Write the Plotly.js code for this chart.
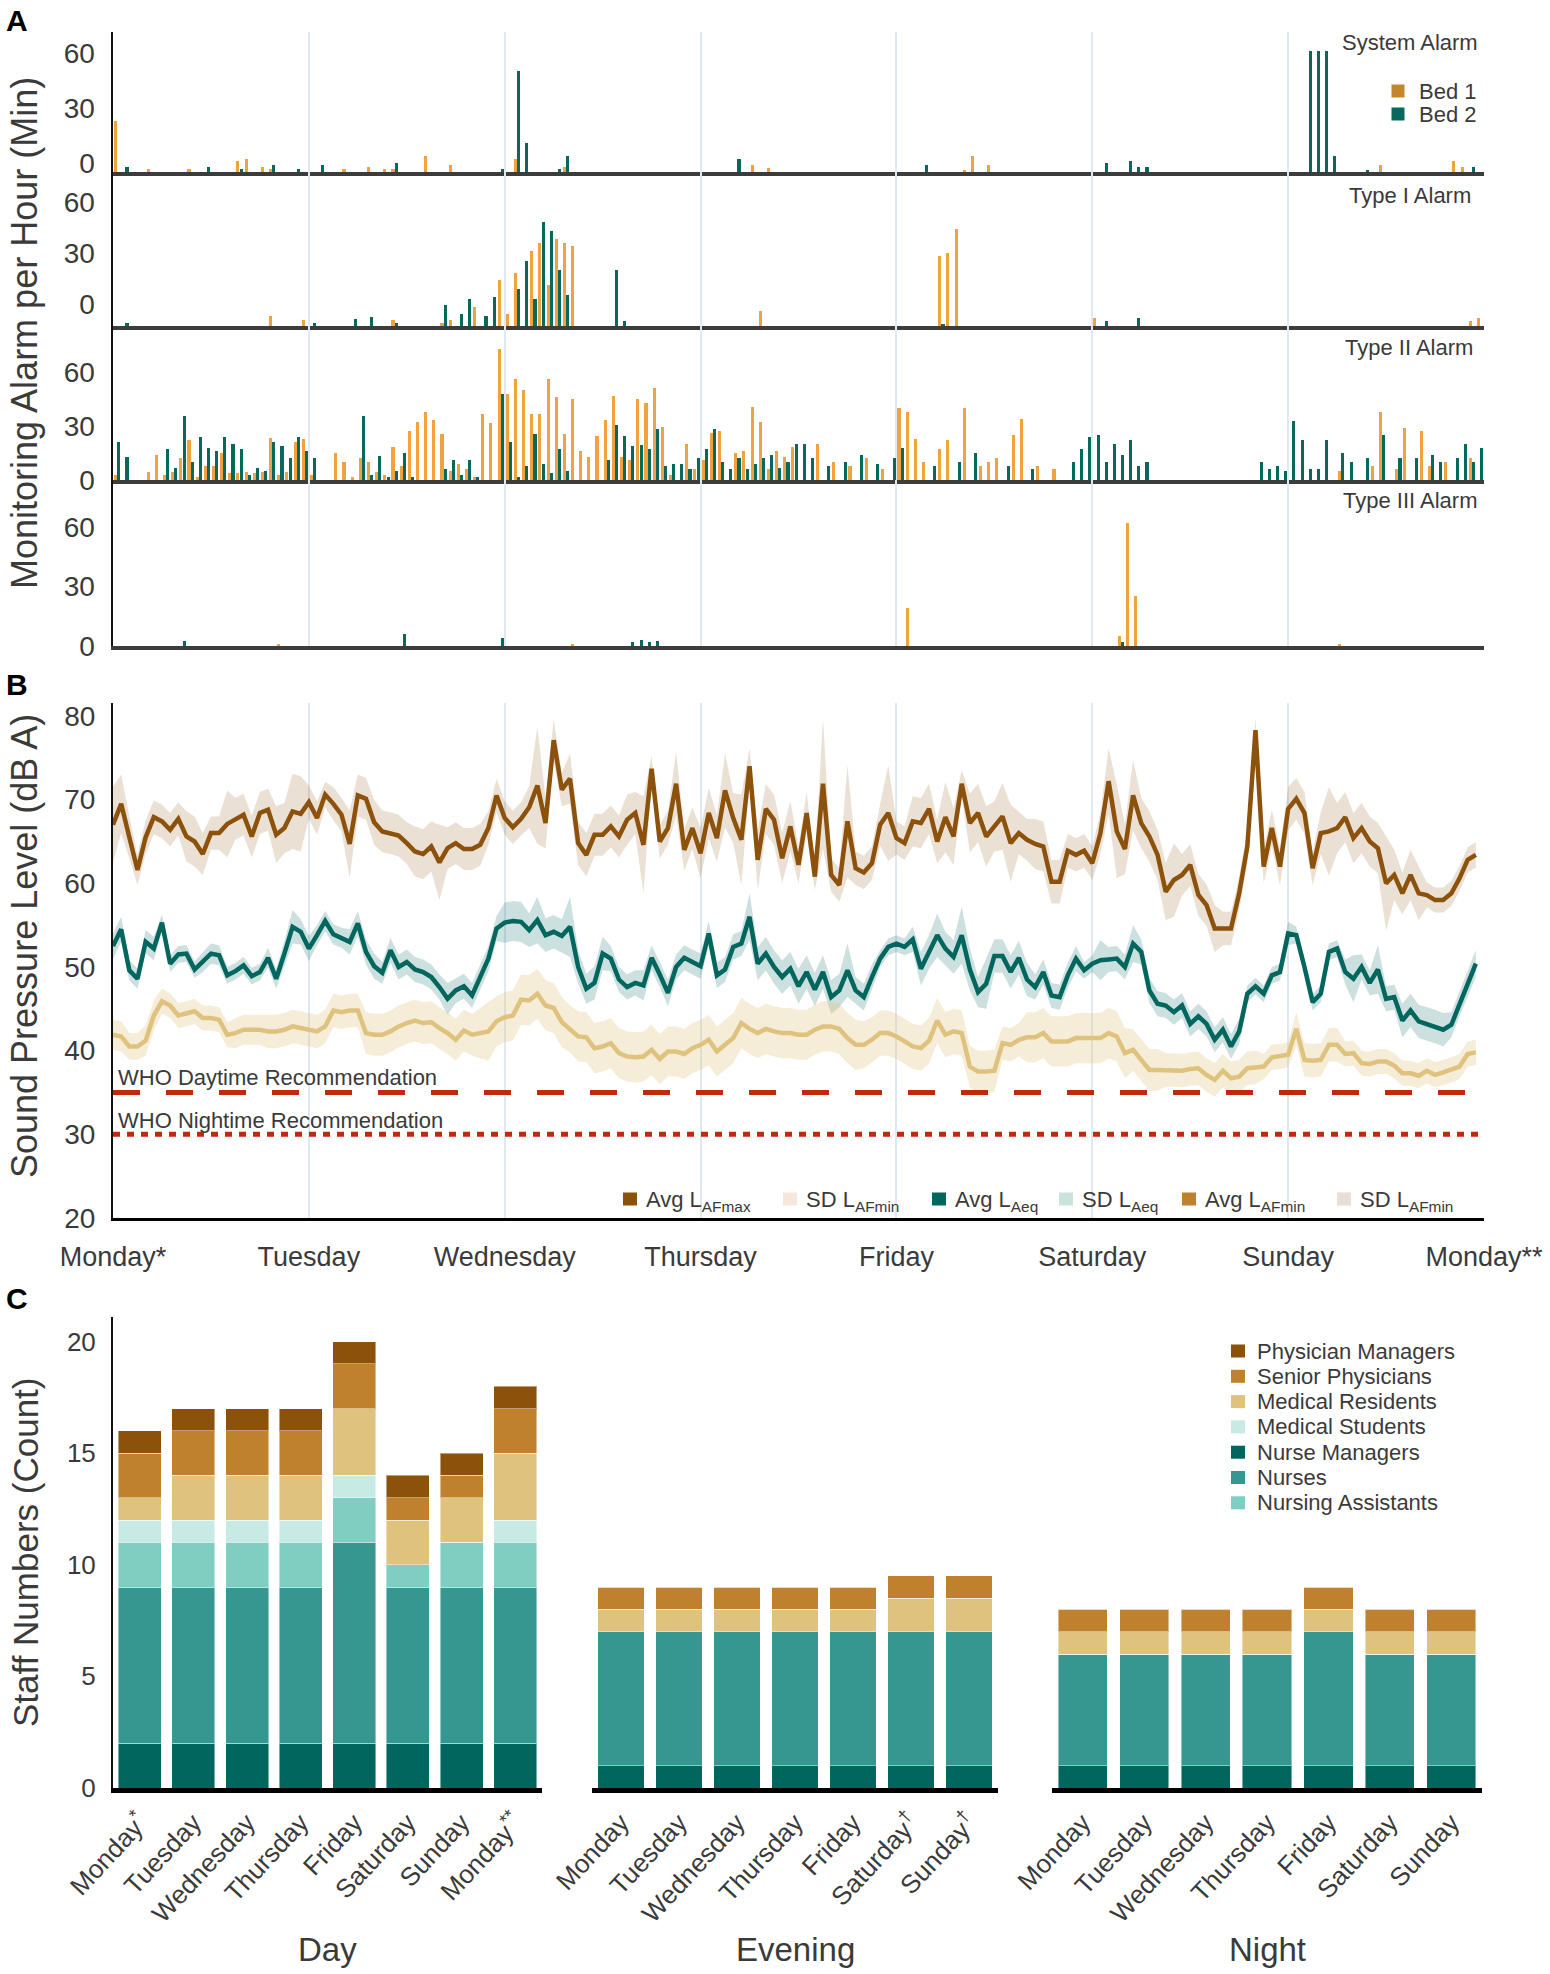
<!DOCTYPE html>
<html><head><meta charset="utf-8">
<script src="https://cdn.plot.ly/plotly-3.0.1.min.js"></script>
<style>html,body{margin:0;padding:0;background:#fff}#chart{width:1550px;height:1974px}</style>
</head><body><div id="chart"></div>
<script>
// ---------------- DATA ----------------
const dayTickVals = [0,24,48,72,96,120,144,168];
const dayTickText = ['Monday*','Tuesday','Wednesday','Thursday','Friday','Saturday','Sunday','Monday**'];

// Panel A: alarm minutes per hour (sparse: hour index, minutes)
const sysBed1Hr  = [0,4,9,15,16,18,19,28,31,33,34,38,41,49,55,78,80,104,105,107,155,164,165];
const sysBed1Min = [28,1.7,1.7,6,7,3,1.7,1.7,3,1.7,1.7,8.5,4,7,3,4,2,1.3,8.5,4,4,6,2.6];
const sysBed2Hr  = [1,11,15,19,22,25,34,47,49,50,54,55,76,99,121,124,125,126,146,147,148,149,153,166];
const sysBed2Min = [3,3,1.7,4,1.7,4,5,1.7,55,16,1.7,8.5,7,4,5,6,2.6,2.6,66,66,66,8.5,1.3,2.6];

const t1Bed1Hr  = [19,23,34,40,41,44,47,48,49,51,52,53,54,55,56,79,101,102,103,120,166,167];
const t1Bed1Min = [6,3.3,3.3,2,3.3,11,27,7,31,44,49,24,51,49,47,9,41,43,57,5,3,5];
const t1Bed2Hr  = [1,24,29,31,34,40,42,43,45,46,49,50,51,52,53,54,55,61,62,101,121,125];
const t1Bed2Min = [2,2,4.3,5.5,2,12.6,7,16,6,17,22,38,16,61,56,33,18,33,3,1,3,5];

const t2Bed1Hr  = [0,4,5,6,7,8,9,10,11,12,13,14,15,16,17,18,19,20,21,22,23,24,27,28,29,30,31,32,33,34,35,36,37,38,39,40,41,42,43,44,45,46,47,48,49,50,51,52,53,54,55,56,57,58,59,60,61,62,63,64,65,66,67,68,70,71,72,73,74,76,77,78,79,80,81,82,83,86,88,90,92,94,96,97,98,99,101,102,104,106,107,108,110,111,113,115,150,154,155,157,158,160,161,163,166];
const t2Bed1Min = [2.8,4.6,13.9,2.8,4.6,12,22,1.9,7.8,7.8,15.2,3.7,3.7,4.6,3.7,4.6,23.5,2.8,4.6,21.3,23,2.8,15.2,9.8,1.9,12,10.2,4.6,2.8,18.3,8,27.4,32.4,37.6,33.3,25.4,5,8.9,5.9,1.9,36.5,31.5,72.6,47.6,55.9,50,36.5,36.5,55.9,45.9,25.4,44.8,16.1,13,24.4,33.3,46.9,13,10.9,44.8,42.6,50.9,29.4,2.8,20,5.9,11,26.3,27.4,15.2,16.1,40.7,32.4,5.9,16.1,13,18.3,20,10,8,12,6,40,38,23,10,17,22,40,8,10,12,25,34,8,6,5,8,38,6,29,27,8,10,12];
const t2Bed2Hr  = [0,1,6,7,8,9,10,11,12,13,14,15,16,17,18,19,20,21,22,23,24,30,31,32,33,34,35,36,40,41,42,43,44,47,48,49,50,51,52,53,54,55,60,61,62,63,64,65,66,67,68,69,70,71,72,73,74,75,76,77,78,79,80,81,82,83,84,85,87,89,91,93,95,96,100,103,105,109,112,117,118,119,120,121,122,123,124,125,126,140,141,142,143,144,145,146,147,148,150,151,153,155,157,159,161,162,164,165,166,167];
const t2Bed2Min = [21.3,13,17,6.5,35.6,9.8,24,18,16,24,20,17,2.8,6.9,5,21,19,12,24,16,12,35.6,2.8,13.3,1.9,5,15.2,1.9,5.9,10.9,2.8,10.9,1.9,47.6,21.3,1.9,8,25.4,8.9,3.7,17,5,10.9,30.4,24.4,19,19.3,17,28.3,8,8.9,8.9,5.9,12,17,28.3,10,5.9,12,5.9,8.9,12,13.9,6.9,10,20,20,12,8,10,14,9,12,18,8,10,15,8,6,10,17,24,25,10,20,14,22,8,10,10,6,8,5,33,22,6,6,22,15,10,12,25,12,12,14,10,12,20,10,18];

const t3Bed1Hr  = [20,56,97,123,124,125,150];
const t3Bed1Min = [1,1,19,5,62,25,1];
const t3Bed2Hr  = [8,35,47,63,64,65,66,123];
const t3Bed2Min = [2.5,6.3,3.8,2,3,2,2.5,2];

// Panel B: hourly sound pressure (dB A)
const avgLAFmax = [67.0,69.5,65.5,61.6,65.5,67.9,67.4,66.4,67.7,65.6,65.0,63.5,
 66.0,66.0,67.1,67.7,68.2,65.6,68.4,68.8,65.8,66.6,68.6,68.3,
 69.7,67.8,70.6,69.5,68.2,64.7,70.5,70.1,67.3,66.2,66.0,65.7,
 64.8,63.8,63.5,64.4,62.5,64.2,64.8,64.1,64.1,64.6,66.6,70.5,
 67.8,66.7,67.7,69.1,71.7,67.2,77.1,71.2,72.5,64.8,63.4,65.8,
 65.8,66.8,65.6,67.6,68.4,64.6,73.7,65.0,66.6,71.9,64.0,66.6,
 63.6,68.4,65.4,71.1,67.8,65.2,74.0,62.8,68.9,67.6,63.0,66.8,
 62.2,68.4,60.8,71.9,61.0,59.8,67.4,61.8,61.3,62.4,67.0,68.4,
 65.4,64.8,67.4,67.2,68.9,65.0,67.9,65.6,71.9,67.2,68.4,65.6,
 66.8,68.0,64.8,66.0,65.2,64.7,64.4,60.2,60.2,63.9,63.4,63.9,
 62.4,66.0,72.2,66.2,64.1,70.5,67.2,65.6,63.4,59.0,60.4,61.0,
 62.2,58.6,57.4,54.6,54.6,54.6,58.8,64.4,78.3,62.0,66.6,62.0,
 68.9,70.1,68.4,61.8,66.0,66.2,66.6,67.9,65.4,66.6,65.0,64.2,
 60.0,61.0,58.8,61.0,58.8,58.6,58.0,58.0,58.8,60.6,62.8,63.4];
const sdLAFmax = [4.5,3.5,2.5,1.8,2,2,2,2,2,3,3,2.5, 2,2,4,2.5,2.5,2.5,2.5,2.5,3.4,3,4.5,4.5,
 2,2,1.5,2,2,4,2.5,2.5,2.7,2.5,2.5,2.5, 2.5,3,3,3,4.5,2.5,2.5,2.5,2.5,2.5,2,2,
 2,2,2,2.5,7,3,2.5,2,3,2.6,2.6,2.5, 2.5,2.5,2.5,3,2.5,5.8,1.5,2,2,3.8,2.5,2.5,
 3,3,2.8,4.4,3,5.4,2.1,3.6,3,3,3,3, 2.2,2.5,1.6,7.8,2,2,6.7,2,2,2,2.5,5.7,
 2,2,3,3,3,2.6,4.2,3.4,1.6,3.5,3.5,3.6, 3,4,4.6,2.5,2.5,3,3,2.6,2.6,2,2,2,
 2,2.5,3.9,5.6,3,4.2,3,3,3,3.4,4.4,2.5, 2.5,2.5,2.5,2.8,2,2,2,2,1.5,2,2.2,2.2,
 2.6,2.5,2.5,2,2.5,5.3,3,3,3,3,3,3, 5.6,3,2.5,3,3.2,1.5,1.5,1.5,1.5,1.5,1.5,1.5];
const avgLAeq = [52.5,54.5,49.6,48.6,53.0,52.2,55.3,50.4,51.5,51.6,49.7,50.6,
 51.6,51.4,49.0,49.5,50.2,48.9,49.4,51.1,48.6,51.6,54.8,54.2,
 52.2,53.8,55.5,53.9,53.5,53.0,55.2,51.8,50.1,49.3,52.0,50.0,
 50.6,49.7,49.4,48.8,47.6,46.2,47.2,47.7,46.6,48.8,51.0,54.6,
 55.3,55.5,55.4,54.4,55.6,53.8,54.2,53.7,54.8,50.0,47.4,48.1,
 51.6,51.0,48.5,47.6,48.1,47.8,51.1,49.1,46.9,50.0,51.1,50.6,
 50.1,54.0,49.0,49.7,52.4,52.8,56.0,50.4,51.6,50.0,48.8,49.8,
 47.7,49.4,47.3,49.4,46.4,47.2,49.6,47.2,46.4,48.8,51.0,52.4,
 52.8,52.4,53.3,49.8,51.8,53.8,52.2,51.2,53.8,49.7,47.0,48.0,
 51.3,51.3,49.4,51.1,48.5,47.6,49.4,46.6,46.4,49.0,51.0,49.6,
 50.4,50.8,50.9,51.0,50.0,52.8,51.8,47.2,45.6,45.4,44.6,45.4,
 43.2,44.1,43.2,41.3,42.5,40.5,42.3,46.8,47.7,46.8,49.0,49.4,
 54.0,53.8,50.0,45.8,46.8,51.8,52.2,49.4,48.6,50.0,48.1,49.7,
 46.2,46.4,43.6,44.8,43.5,43.2,42.9,42.5,43.1,45.6,48.0,50.4];
const sdLAeq = [1.5,1.5,1.2,1.2,1.4,1.4,1,1,1,1,1,1.2, 1.2,1.2,1,1,1,1,1,1.2,1.2,1.5,2,1.5,
 1.5,1.2,1.2,1.2,1.2,1.5,1.5,1.5,1.5,1.3,1.5,1.5, 1.5,1.5,1.5,1.5,1.5,1.9,1.5,1.5,1.5,1.5,1.5,1.5,
 2.4,2.4,2.4,2,2.8,2,2,2,3.6,2,1.8,2, 2,1.5,1.5,1.5,1.5,1.8,1.5,1.5,1.6,1.5,1.5,1.5,
 1.5,1.5,1.5,1.5,1.5,1.5,2.8,2,2,2,2,2, 2.1,2,2,2,2,2,3.2,1.6,1.6,1.5,1,1,
 1,1,1.5,2,2,2.6,2,2,3.4,2.5,1.8,3, 2,2,2,2,2,1.5,1.5,1.5,1.5,1.5,1.5,1,
 1,2.4,1.5,1.5,1.5,2.2,1.5,1.5,1.5,1.5,1.5,1.5, 1.5,1.5,1.5,1.5,1.5,1.5,1.5,1,1,1,1,1,
 1.4,1,1,1,1,1,1,1.5,2.8,1.5,1.5,2.9, 1.5,1.5,2,2,2,2,2,2,1.5,1.5,1.5,1.6];
const avgLAFmin = [41.9,41.7,40.5,40.5,41.2,44.2,45.9,45.4,44.2,44.4,44.7,43.9,
 43.9,43.7,41.9,42.1,42.5,42.5,42.5,42.3,42.3,42.5,42.9,42.7,
 42.5,42.3,42.9,44.8,44.6,44.8,44.8,42.1,41.9,41.9,42.3,42.9,
 43.3,43.6,43.3,43.4,42.7,42.1,41.3,42.4,41.9,42.1,42.3,43.5,
 44.0,44.2,46.1,46.0,46.8,45.4,45.1,43.4,42.6,41.7,41.6,40.3,
 40.5,40.9,39.7,39.3,39.2,39.3,40.1,39.0,39.9,39.9,39.6,40.3,
 40.7,41.3,39.9,40.7,41.5,43.3,42.6,42.1,42.6,42.3,42.1,42.1,
 41.9,41.9,42.5,42.9,42.9,42.6,41.5,40.7,40.7,41.3,42.1,42.1,
 41.7,41.1,40.5,40.3,41.2,43.6,41.9,42.3,42.1,38.1,37.5,37.5,
 37.6,40.9,40.7,41.3,41.6,41.6,42.1,41.1,41.1,41.1,41.5,41.5,
 41.5,41.5,42.1,41.7,39.7,40.1,38.9,37.7,37.7,37.7,37.7,37.6,
 37.8,37.9,37.1,36.5,37.6,36.7,36.9,37.9,38.0,38.1,39.2,39.3,
 39.5,42.6,38.9,38.8,38.9,40.7,40.7,39.6,39.7,38.5,38.4,38.7,
 38.7,38.2,37.3,37.3,37.0,37.6,37.1,37.4,37.7,38.1,39.6,39.8];
const sdLAFmin = [1.8,1.8,1.6,1.6,1.8,1.8,1.5,1.5,1.5,1.5,1.5,1.5, 1.5,1.5,1.5,1.8,1.8,1.8,1.8,2,2,2,2,2,
 2,2,2,2,2,2,2,2.5,2.5,2.5,2.5,2.5, 2.5,2.5,2.5,2.5,2.5,2.5,2.5,2.5,2.5,3,3.5,3,
 3,3,3,3,3,3,3,3,2.8,3,3,3, 3,3,3,3,3,3,3,3,3,3,3,3,
 3,3,3,3,3,3,3,3,3,3,3,3, 3,3,3,3,3,3,3,3,2.8,2.7,2.7,2.7,
 2.7,2.7,2.7,2.7,2.7,2.7,2.7,2.7,2.7,2.5,2.5,2.5, 2.5,2,2,2,3,3,3,3,3,3,3,3,
 3,3,3,3,3,2.5,2.5,2.5,2.5,2,2,2, 2,2,2,2,2,2,2,2,2,1.5,1.5,1.5,
 1.5,2,2,2,2,2,2,1.5,1.5,1.5,1.5,1.5, 1.5,1.5,1.5,1.5,1.5,1.5,1.5,1.5,1.5,1.5,1.5,1.5];
const whoDaytime = 35, whoNighttime = 30;

// Panel C: staff counts
const dayDays   = ['Monday*','Tuesday','Wednesday','Thursday','Friday','Saturday','Sunday','Monday**'];
const dayTicks  = ['Monday<sup>*</sup>','Tuesday','Wednesday','Thursday','Friday','Saturday','Sunday','Monday<sup>**</sup>'];
const eveDays   = ['Monday','Tuesday','Wednesday','Thursday','Friday','Saturday†','Sunday†'];
const eveTicks  = ['Monday','Tuesday','Wednesday','Thursday','Friday','Saturday<sup>†</sup>','Sunday<sup>†</sup>'];
const nightDays = ['Monday','Tuesday','Wednesday','Thursday','Friday','Saturday','Sunday'];
const roles = ['Nurse Managers','Nurses','Nursing Assistants','Medical Students','Medical Residents','Senior Physicians','Physician Managers'];
const dayCounts = [
  [2,2,2,2,2,2,2,2],
  [7,7,7,7,9,7,7,7],
  [2,2,2,2,2,1,2,2],
  [1,1,1,1,1,0,0,1],
  [1,2,2,2,3,2,2,3],
  [2,2,2,2,2,1,1,2],
  [1,1,1,1,1,1,1,1]];
const eveCounts = [
  [1,1,1,1,1,1,1],
  [6,6,6,6,6,6,6],
  [0,0,0,0,0,0,0],
  [0,0,0,0,0,0,0],
  [1,1,1,1,1,1.5,1.5],
  [1,1,1,1,1,1,1],
  [0,0,0,0,0,0,0]];
const nightCounts = [
  [1,1,1,1,1,1,1],
  [5,5,5,5,6,5,5],
  [0,0,0,0,0,0,0],
  [0,0,0,0,0,0,0],
  [1,1,1,1,1,1,1],
  [1,1,1,1,1,1,1],
  [0,0,0,0,0,0,0]];
const legendCOrder = ['Physician Managers','Senior Physicians','Medical Residents','Medical Students','Nurse Managers','Nurses','Nursing Assistants'];
const legendBLabels = ['Avg L<sub>AFmax</sub>','SD L<sub>AFmin</sub>','Avg L<sub>Aeq</sub>','SD L<sub>Aeq</sub>','Avg L<sub>AFmin</sub>','SD L<sub>AFmin</sub>'];

// ---------------- STYLE / LAYOUT ----------------
const W = 1550, H = 1974;
const px = v => v / W, py = v => 1 - v / H;
const FONT = 'Liberation Sans, Arial, Helvetica, sans-serif';
const TXT = '#3a3a3a';
const BED1 = '#EFA23E', BED1_LEG = '#C1862F', BED2 = '#07695C';
const roleColor = {'Nurse Managers':'#01665E','Nurses':'#35978F','Nursing Assistants':'#80CDC1','Medical Students':'#C7EAE5',
  'Medical Residents':'#DFC27D','Senior Physicians':'#BF812D','Physician Managers':'#8C510A'};
const legendBColors = ['#8C510A','#F5E7DC','#01665E','#C9E3DD','#BF812D','#E9DDD6'];
const gridC = '#E0E8F2';
const xDomA = [px(113), px(1484)];

const traces = [];
function alarmBars(hr, val, ax, floor, bed) {
  traces.push({type:'bar', x:hr, y:val, base:floor, offset: bed===1?0.12:0.52, width:0.38,
    marker:{color: bed===1?BED1:BED2, line:{width:0}}, xaxis:'x'+ax, yaxis:'y'+ax, showlegend:false, hoverinfo:'skip'});
}
alarmBars(sysBed1Hr, sysBed1Min, '', -5, 1); alarmBars(sysBed2Hr, sysBed2Min, '', -5, 2);
alarmBars(t1Bed1Hr, t1Bed1Min, '2', -13, 1); alarmBars(t1Bed2Hr, t1Bed2Min, '2', -13, 2);
alarmBars(t2Bed1Hr, t2Bed1Min, '3', 0, 1); alarmBars(t2Bed2Hr, t2Bed2Min, '3', 0, 2);
alarmBars(t3Bed1Hr, t3Bed1Min, '4', 0, 1); alarmBars(t3Bed2Hr, t3Bed2Min, '4', 0, 2);

// Panel B
const hours = avgLAFmax.map((_, i) => i);
function band(avg, sd, fill) {
  traces.push({type:'scatter',mode:'lines',x:hours,y:avg.map((v,i)=>v+sd[i]),line:{width:0},xaxis:'x5',yaxis:'y5',showlegend:false,hoverinfo:'skip'});
  traces.push({type:'scatter',mode:'lines',x:hours,y:avg.map((v,i)=>v-sd[i]),line:{width:0},fill:'tonexty',fillcolor:fill,xaxis:'x5',yaxis:'y5',showlegend:false,hoverinfo:'skip'});
}
band(avgLAFmax, sdLAFmax, 'rgba(140,81,10,0.18)');
band(avgLAeq, sdLAeq, 'rgba(1,102,94,0.2)');
band(avgLAFmin, sdLAFmin, 'rgba(223,194,125,0.3)');
traces.push({type:'scatter',mode:'lines',x:[0,168],y:[whoDaytime,whoDaytime],line:{color:'#C0290E',width:5,dash:'27px,26px'},xaxis:'x5',yaxis:'y5',showlegend:false});
traces.push({type:'scatter',mode:'lines',x:[0,168],y:[whoNighttime,whoNighttime],line:{color:'#C0290E',width:5,dash:'7px,7px'},xaxis:'x5',yaxis:'y5',showlegend:false});
[[avgLAFmax,'#8C510A'],[avgLAeq,'#01665E'],[avgLAFmin,'#DFC27D']].forEach(([a,c])=>traces.push({type:'scatter',mode:'lines',x:hours,y:a,
  line:{color:c,width:4.5},xaxis:'x5',yaxis:'y5',showlegend:false}));

// Panel C
function staff(cats, counts, ax) {
  roles.forEach((r, k) => traces.push({type:'bar', x:cats, y:counts[k], name:r,
    marker:{color:roleColor[r], line:{color:'rgba(255,255,255,0.45)', width:1}}, xaxis:'x'+ax, yaxis:'y'+ax,
    showlegend:false, hoverinfo:'skip'}));
}
staff(dayDays, dayCounts, '6');
staff(eveDays, eveCounts, '7');
staff(nightDays, nightCounts, '8');

const tickF = {family:FONT, size:28, color:TXT};
const dayF = {family:FONT, size:27, color:TXT};
function axA(anchor){return {domain:xDomA, anchor:anchor, range:[0,168], tickvals:dayTickVals.slice(1), showticklabels:false,
  showgrid:true, gridcolor:gridC, gridwidth:2, zeroline:false, showline:true, linecolor:'#3c3c3c', linewidth:3.5, ticks:''};}
function ayA(dom, rng){return {domain:dom, range:rng, tickvals:[0,30,60], tickfont:tickF, showgrid:false, zeroline:false,
  showline:true, linecolor:'#111', linewidth:2.5, ticks:'', ticklabelstandoff:10};}
function axC(dom, anchor, cats, ticks){return {domain:dom, anchor:anchor, type:'category', tickvals:cats, ticktext:ticks, tickangle:-47,
  tickfont:{family:FONT,size:26,color:TXT}, showline:true, linecolor:'#000', linewidth:5, showgrid:false, zeroline:false, ticks:'', ticklabelstandoff:4};}
function ayC(anchor, vis){return {domain:[py(1788), py(1317)], anchor:anchor, range:[0,21.1], tickvals:[0,5,10,15,20],
  tickfont:{family:FONT,size:26,color:TXT}, showticklabels:vis, showline:vis, linecolor:'#111', linewidth:2, showgrid:false, zeroline:false, ticks:'', ticklabelstandoff:10};}

const ann = [], shapes = [];
function t(text, x, y, size, opts) { ann.push(Object.assign({text, x:px(x), y:py(y), xref:'paper', yref:'paper', showarrow:false,
  xanchor:'center', yanchor:'middle', font:{family:FONT,size:size,color:TXT}}, opts||{})); }
function swatch(cx, cy, w, h, color) { shapes.push({type:'rect', xref:'paper', yref:'paper', x0:px(cx-w/2), x1:px(cx+w/2),
  y0:py(cy+h/2), y1:py(cy-h/2), fillcolor:color, line:{width:0}, layer:'above'}); }

t('<b>A</b>', 17, 21, 30, {font:{family:FONT,size:30,color:'#000'}});
t('<b>B</b>', 17, 684, 30, {font:{family:FONT,size:30,color:'#000'}});
t('<b>C</b>', 17, 1298, 30, {font:{family:FONT,size:30,color:'#000'}});
t('System Alarm', 1480, 42, 22, {xanchor:'right'});
t('Type I Alarm', 1473, 195, 22, {xanchor:'right'});
t('Type II Alarm', 1475, 348, 22, {xanchor:'right'});
t('Type III Alarm', 1480, 500, 22, {xanchor:'right'});
t('WHO Daytime Recommendation', 116, 1077, 22, {xanchor:'left'});
t('WHO Nightime Recommendation', 116, 1120, 22, {xanchor:'left'});
t('Monitoring Alarm per Hour (Min)', 25, 333, 36, {textangle:-90});
t('Sound Pressure Level (dB A)', 25, 946, 36, {textangle:-90});
t('Staff Numbers (Count)', 25, 1552, 35, {textangle:-90});
t('Day', 327, 1949, 33); t('Evening', 795, 1949, 33); t('Night', 1267, 1949, 33);

// Legend A
swatch(1398, 91, 13, 13, BED1_LEG); t('Bed 1', 1417, 91, 22, {xanchor:'left'});
swatch(1398, 114, 13, 13, BED2);    t('Bed 2', 1417, 114, 22, {xanchor:'left'});
// Legend B
const legBSwX = [630, 790, 939, 1066, 1189, 1344];
legendBLabels.forEach((lab, i) => { swatch(legBSwX[i], 1199, 14, 13, legendBColors[i]); t(lab, legBSwX[i]+14, 1201, 22, {xanchor:'left'}); });
// Legend C
legendCOrder.forEach((r, i) => { const cy = 1351 + i*25.3; swatch(1238, cy, 14, 13, roleColor[r]); t(r, 1255, cy, 22, {xanchor:'left'}); });

const layout = {
  width:W, height:H, margin:{l:0,r:0,t:0,b:0}, paper_bgcolor:'#fff', plot_bgcolor:'rgba(0,0,0,0)',
  barmode:'stack', bargap:0.2, font:{family:FONT, color:TXT}, hovermode:false, showlegend:false,
  xaxis:axA('y'), xaxis2:axA('y2'), xaxis3:axA('y3'), xaxis4:axA('y4'),
  yaxis:ayA([py(172), py(32)], [-5, 71.6]),
  yaxis2:ayA([py(326), py(172)], [-13, 77.6]),
  yaxis3:ayA([py(480), py(326)], [0, 85.6]),
  yaxis4:ayA([py(646), py(480)], [0, 83.7]),
  xaxis5:{domain:xDomA, anchor:'y5', range:[0,168], tickvals:dayTickVals, ticktext:dayTickText, tickfont:dayF,
    showgrid:true, gridcolor:gridC, gridwidth:2, zeroline:false, showline:true, linecolor:'#000', linewidth:3, ticks:'', ticklabelstandoff:13},
  yaxis5:{domain:[py(1218), py(703)], anchor:'x5', range:[20, 81.55], tickvals:[20,30,40,50,60,70,80], tickfont:tickF,
    showgrid:false, zeroline:false, showline:true, linecolor:'#111', linewidth:2, ticks:'', ticklabelstandoff:10},
  xaxis6:axC([px(113), px(542)], 'y6', dayDays, dayTicks),
  xaxis7:axC([px(592), px(998)], 'y7', eveDays, eveTicks),
  xaxis8:axC([px(1052), px(1482)], 'y8', nightDays, nightDays),
  yaxis6:ayC('x6', true), yaxis7:ayC('x7', false), yaxis8:ayC('x8', false),
  annotations:ann, shapes:shapes
};
Plotly.newPlot('chart', traces, layout, {staticPlot:true});
</script></body></html>
